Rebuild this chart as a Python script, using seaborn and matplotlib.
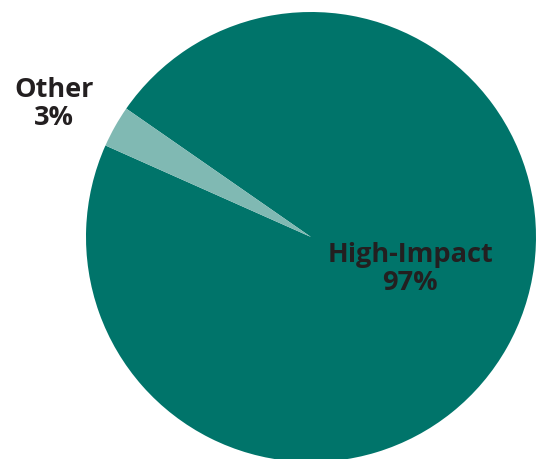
import matplotlib
matplotlib.use("Agg")
import matplotlib.pyplot as plt
import seaborn as sns

categories = ["High-Impact", "Other"]
values = [97, 3]
pct_labels = ["97%", "3%"]
colors = ["#00746A", "#80B9B3"]

sns.set_theme(style="white")
plt.rcParams['font.family'] = ['Open Sans', 'DejaVu Sans']

W, H = 539, 460
fig = plt.figure(figsize=(W / 100, H / 100), dpi=100)
cx, cy, r = 311, 238, 225
ax = fig.add_axes([(cx - r) / W, (H - cy - r) / H, 2 * r / W, 2 * r / H])
ax.pie(values, colors=colors, startangle=156, counterclock=True,
       wedgeprops=dict(linewidth=0), radius=1.0)
ax.set_xlim(-1, 1)
ax.set_ylim(-1, 1)
ax.set_aspect('auto')
ax.axis('off')

txt_color = "#231F20"
fig.text(410 / W, 1 - 269 / H, f"{categories[0]}\n{pct_labels[0]}", ha="center", va="center",
         fontsize=19.5, fontweight="bold", color=txt_color, linespacing=1.12)
fig.text(54 / W, 1 - 104 / H, f"{categories[1]}\n{pct_labels[1]}", ha="center", va="center",
         fontsize=19.5, fontweight="bold", color=txt_color, linespacing=1.12)

fig.savefig("out.png", dpi=100)
